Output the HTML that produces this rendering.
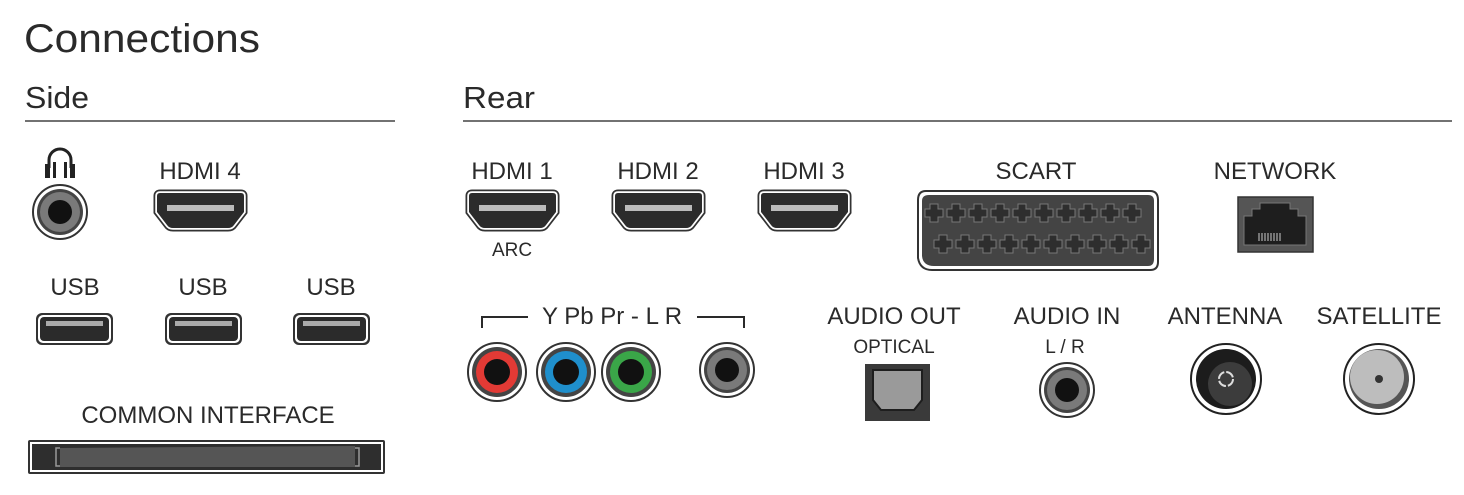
<!DOCTYPE html>
<html><head><meta charset="utf-8"><style>
html,body{margin:0;padding:0;background:#fff;width:1464px;height:495px;overflow:hidden}
svg text{font-family:"Liberation Sans",sans-serif;fill:#2a2a2a}
</style></head><body>
<svg width="1464" height="495" viewBox="0 0 1464 495" xmlns="http://www.w3.org/2000/svg">
<defs>
<path id="hp" d="M4,4 Q4,1 7,1 H88 Q91,1 91,4 V20 L81,33 Q79,36 75,36 H20 Q16,36 14,33 L4,20 Z"/>
<g id="hdmi">
<use href="#hp" fill="none" stroke="#333" stroke-width="7"/>
<use href="#hp" fill="none" stroke="#fff" stroke-width="3.5"/>
<use href="#hp" fill="#2b2b2b"/>
<rect x="14" y="13" width="67" height="6" fill="#bbb"/>
</g>
<g id="usb">
<rect x="0" y="0" width="77" height="32" rx="6" fill="#333"/>
<rect x="2" y="2" width="73" height="28" rx="5" fill="#fff"/>
<rect x="4" y="4" width="69" height="24" rx="4" fill="#2b2b2b"/>
<rect x="10" y="8" width="57" height="5" fill="#aaa"/>
</g>
<g id="jack">
<circle r="27" fill="#fff" stroke="#333" stroke-width="2"/>
<circle r="23" fill="#444"/>
<circle r="20" fill="#7a7a7a"/>
<circle r="12" fill="#111"/>
</g>
<path id="pin" d="M-4,-9 h8 v5 h5 v8 h-5 v5 h-8 v-5 h-5 v-8 h5 z"/>
</defs>

<text x="24" y="52" font-size="40" fill="#333" textLength="236" lengthAdjust="spacingAndGlyphs">Connections</text>
<text x="25" y="108" font-size="31" textLength="64" lengthAdjust="spacingAndGlyphs">Side</text>
<line x1="25" y1="121" x2="395" y2="121" stroke="#444" stroke-width="1.5"/>
<text x="463" y="108" font-size="31" textLength="72" lengthAdjust="spacingAndGlyphs">Rear</text>
<line x1="463" y1="121" x2="1452" y2="121" stroke="#444" stroke-width="1.5"/>

<!-- headphone -->
<path d="M49,168 V160 A11,11 0 0 1 71,160 V168" fill="none" stroke="#222" stroke-width="3"/>
<rect x="45" y="164" width="5" height="14" fill="#222"/><rect x="53" y="162" width="3" height="16" fill="#222"/>
<rect x="70" y="164" width="5" height="14" fill="#222"/><rect x="64" y="162" width="3" height="16" fill="#222"/>
<use href="#jack" x="60" y="212"/>

<g font-size="24" text-anchor="middle">
<text x="200" y="179">HDMI 4</text>
<text x="75" y="295">USB</text><text x="203" y="295">USB</text><text x="331" y="295">USB</text>
<text x="208" y="423">COMMON INTERFACE</text>
<text x="512" y="179">HDMI 1</text><text x="658" y="179">HDMI 2</text><text x="804" y="179">HDMI 3</text>
<text x="1036" y="179">SCART</text><text x="1275" y="179">NETWORK</text>
<text x="894" y="324">AUDIO OUT</text><text x="1067" y="324">AUDIO IN</text>
<text x="1225" y="324">ANTENNA</text><text x="1379" y="324">SATELLITE</text>
<text x="612" y="324">Y Pb Pr - L R</text>
</g>
<g font-size="19" text-anchor="middle">
<text x="512" y="256">ARC</text>
<text x="894" y="353">OPTICAL</text>
<text x="1065" y="353">L / R</text>
</g>
<path d="M482,328 V317 H528 M697,317 H744 V328" fill="none" stroke="#2a2a2a" stroke-width="2"/>

<use href="#hdmi" x="153" y="192"/>
<use href="#hdmi" x="465" y="192"/>
<use href="#hdmi" x="611" y="192"/>
<use href="#hdmi" x="757" y="192"/>

<use href="#usb" x="36" y="313"/>
<use href="#usb" x="165" y="313"/>
<use href="#usb" x="293" y="313"/>

<!-- CI -->
<rect x="28" y="440" width="357" height="34" rx="2" fill="#333"/>
<rect x="30" y="442" width="353" height="30" fill="#fff"/>
<rect x="32" y="444" width="349" height="26" fill="#2e2e2e"/>
<path d="M60,448 L355,446 V467 L60,467 Z" fill="#555"/>
<path d="M60,448 H56 V466 H60 M355,448 H359 V466 H355" fill="none" stroke="#999" stroke-width="1.5"/>

<!-- SCART -->
<path d="M926,191 H1150 Q1158,191 1158,200 V262 Q1158,270 1150,270 H932 Q920,270 918,258 V200 Q918,191 926,191 Z" fill="#fff" stroke="#333" stroke-width="2"/>
<path d="M929,195 H1148 Q1154,195 1154,201 V259 Q1154,266 1148,266 H934 Q923,266 922,256 V201 Q922,195 929,195 Z" fill="#444"/>
<g fill="#2e2e2e" stroke="#777" stroke-width="1">
<g id="pinrow">
<use href="#pin" x="934" y="213"/><use href="#pin" x="956" y="213"/><use href="#pin" x="978" y="213"/>
<use href="#pin" x="1000" y="213"/><use href="#pin" x="1022" y="213"/><use href="#pin" x="1044" y="213"/>
<use href="#pin" x="1066" y="213"/><use href="#pin" x="1088" y="213"/><use href="#pin" x="1110" y="213"/>
<use href="#pin" x="1132" y="213"/>
</g>
<use href="#pinrow" x="9" y="31"/>
</g>

<!-- network -->
<rect x="1238" y="197" width="75" height="55" fill="#555" stroke="#333" stroke-width="1.5"/>
<path d="M1244,245 V216 H1252 V209 H1260 V203 H1290 V209 H1298 V216 H1306 V245 Z" fill="#1e1e1e" stroke="#777" stroke-width="1"/>
<g stroke="#ccc" stroke-width="1"><path d="M1259,233v8M1262,233v8M1265,233v8M1268,233v8M1271,233v8M1274,233v8M1277,233v8M1280,233v8"/></g>

<!-- RCA -->
<g transform="translate(497,372)"><circle r="29" fill="#fff" stroke="#333" stroke-width="2"/><circle r="25" fill="#444"/><circle r="21" fill="#e23a35"/><circle r="13" fill="#111"/></g>
<g transform="translate(566,372)"><circle r="29" fill="#fff" stroke="#333" stroke-width="2"/><circle r="25" fill="#444"/><circle r="21" fill="#1f8fcc"/><circle r="13" fill="#111"/></g>
<g transform="translate(631,372)"><circle r="29" fill="#fff" stroke="#333" stroke-width="2"/><circle r="25" fill="#444"/><circle r="21" fill="#3aa648"/><circle r="13" fill="#111"/></g>
<use href="#jack" x="727" y="370"/>
<use href="#jack" x="1067" y="390"/>

<!-- optical -->
<rect x="865" y="364" width="65" height="57" fill="#3a3a3a"/>
<path d="M873,370 H922 V400 L914,410 H881 L873,400 Z" fill="#9a9a9a" stroke="#1e1e1e" stroke-width="2"/>

<!-- antenna -->
<circle cx="1226" cy="379" r="35" fill="#fff" stroke="#222" stroke-width="2"/>
<circle cx="1226" cy="379" r="30" fill="#1c1c1c"/>
<circle cx="1230" cy="384" r="22" fill="#3c3c3c"/>
<circle cx="1226" cy="379" r="7" fill="none" stroke="#ddd" stroke-width="2" stroke-dasharray="9 2"/>

<!-- satellite -->
<circle cx="1379" cy="379" r="35" fill="#fff" stroke="#222" stroke-width="2"/>
<circle cx="1379" cy="379" r="30" fill="#555"/>
<circle cx="1377" cy="377" r="27" fill="#bdbdbd"/>
<circle cx="1379" cy="379" r="4" fill="#333"/>
</svg>
</body></html>
